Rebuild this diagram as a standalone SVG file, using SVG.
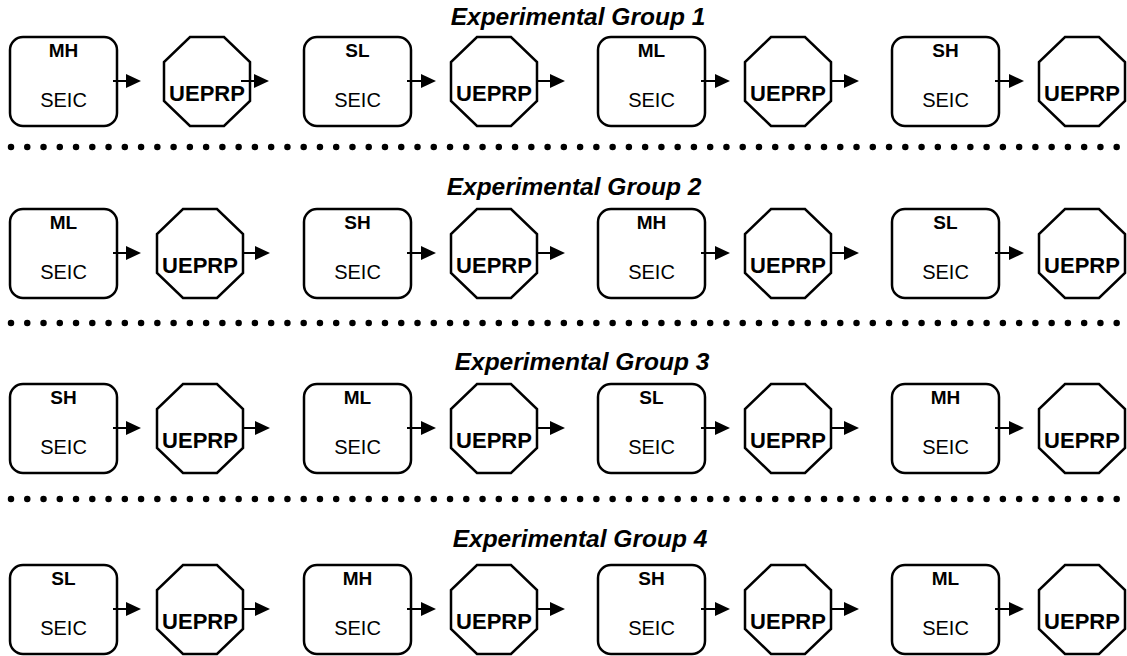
<svg xmlns="http://www.w3.org/2000/svg" width="1127" height="656" viewBox="0 0 1127 656">
<defs>
<style>
.box{fill:#fff;stroke:#000;stroke-width:2.5}
.oct{fill:#fff;stroke:#000;stroke-width:2.5}
.lbl{font-family:"Liberation Sans",Arial,sans-serif;font-weight:bold;font-size:19px;text-anchor:middle}
.seic{font-family:"Liberation Sans",Arial,sans-serif;font-size:20px;text-anchor:middle}
.ue{font-family:"Liberation Sans",Arial,sans-serif;font-weight:bold;font-size:22px;text-anchor:middle}
.title{font-family:"Liberation Sans",Arial,sans-serif;font-weight:bold;font-style:italic;font-size:24.5px;text-anchor:middle}
.arr{stroke:#000;stroke-width:2;fill:none;marker-end:url(#ah)}
.dots{stroke:#000;stroke-width:6.5;stroke-linecap:round;stroke-dasharray:0 16.26;fill:none}
</style>
<marker id="ah" markerUnits="userSpaceOnUse" markerWidth="15" markerHeight="14" refX="13" refY="7" orient="auto">
<path d="M0,0 L15,7 L0,14 z" fill="#000"/>
</marker>
<rect id="b" width="107" height="89" rx="13" class="box"/>
<polygon id="o" points="26,0 60,0 86,25 86,64 60,89 26,89 0,64 0,25" class="oct"/>
</defs>

<g id="titles">
<text class="title" x="578" y="25">Experimental Group 1</text>
<text class="title" x="574" y="195">Experimental Group 2</text>
<text class="title" x="582" y="370">Experimental Group 3</text>
<text class="title" x="580" y="547">Experimental Group 4</text>
</g>

<g id="separators">
<line class="dots" x1="11" y1="147" x2="1117" y2="147"/>
<line class="dots" x1="11" y1="323" x2="1117" y2="323"/>
<line class="dots" x1="11" y1="499" x2="1117" y2="499"/>
</g>

<!-- Row 1 -->
<g id="r1c1"><use href="#b" x="10" y="37"/><text class="lbl" x="63.5" y="57">MH</text><text class="seic" x="63.5" y="107">SEIC</text></g>
<g id="r1o1"><use href="#o" x="164" y="37"/><text class="ue" x="207" y="101">UEPRP</text></g>
<g id="r1c2"><use href="#b" x="304" y="37"/><text class="lbl" x="357.5" y="57">SL</text><text class="seic" x="357.5" y="107">SEIC</text></g>
<g id="r1o2"><use href="#o" x="451" y="37"/><text class="ue" x="494" y="101">UEPRP</text></g>
<g id="r1c3"><use href="#b" x="598" y="37"/><text class="lbl" x="651.5" y="57">ML</text><text class="seic" x="651.5" y="107">SEIC</text></g>
<g id="r1o3"><use href="#o" x="745" y="37"/><text class="ue" x="788" y="101">UEPRP</text></g>
<g id="r1c4"><use href="#b" x="892" y="37"/><text class="lbl" x="945.5" y="57">SH</text><text class="seic" x="945.5" y="107">SEIC</text></g>
<g id="r1o4"><use href="#o" x="1039" y="37"/><text class="ue" x="1082" y="101">UEPRP</text></g>

<!-- Row 2 -->
<g id="r2c1"><use href="#b" x="10" y="209"/><text class="lbl" x="63.5" y="229">ML</text><text class="seic" x="63.5" y="279">SEIC</text></g>
<g id="r2o1"><use href="#o" x="157" y="209"/><text class="ue" x="200" y="273">UEPRP</text></g>
<g id="r2c2"><use href="#b" x="304" y="209"/><text class="lbl" x="357.5" y="229">SH</text><text class="seic" x="357.5" y="279">SEIC</text></g>
<g id="r2o2"><use href="#o" x="451" y="209"/><text class="ue" x="494" y="273">UEPRP</text></g>
<g id="r2c3"><use href="#b" x="598" y="209"/><text class="lbl" x="651.5" y="229">MH</text><text class="seic" x="651.5" y="279">SEIC</text></g>
<g id="r2o3"><use href="#o" x="745" y="209"/><text class="ue" x="788" y="273">UEPRP</text></g>
<g id="r2c4"><use href="#b" x="892" y="209"/><text class="lbl" x="945.5" y="229">SL</text><text class="seic" x="945.5" y="279">SEIC</text></g>
<g id="r2o4"><use href="#o" x="1039" y="209"/><text class="ue" x="1082" y="273">UEPRP</text></g>

<!-- Row 3 -->
<g id="r3c1"><use href="#b" x="10" y="384"/><text class="lbl" x="63.5" y="404">SH</text><text class="seic" x="63.5" y="454">SEIC</text></g>
<g id="r3o1"><use href="#o" x="157" y="384"/><text class="ue" x="200" y="448">UEPRP</text></g>
<g id="r3c2"><use href="#b" x="304" y="384"/><text class="lbl" x="357.5" y="404">ML</text><text class="seic" x="357.5" y="454">SEIC</text></g>
<g id="r3o2"><use href="#o" x="451" y="384"/><text class="ue" x="494" y="448">UEPRP</text></g>
<g id="r3c3"><use href="#b" x="598" y="384"/><text class="lbl" x="651.5" y="404">SL</text><text class="seic" x="651.5" y="454">SEIC</text></g>
<g id="r3o3"><use href="#o" x="745" y="384"/><text class="ue" x="788" y="448">UEPRP</text></g>
<g id="r3c4"><use href="#b" x="892" y="384"/><text class="lbl" x="945.5" y="404">MH</text><text class="seic" x="945.5" y="454">SEIC</text></g>
<g id="r3o4"><use href="#o" x="1039" y="384"/><text class="ue" x="1082" y="448">UEPRP</text></g>

<!-- Row 4 -->
<g id="r4c1"><use href="#b" x="10" y="565"/><text class="lbl" x="63.5" y="585">SL</text><text class="seic" x="63.5" y="635">SEIC</text></g>
<g id="r4o1"><use href="#o" x="157" y="565"/><text class="ue" x="200" y="629">UEPRP</text></g>
<g id="r4c2"><use href="#b" x="304" y="565"/><text class="lbl" x="357.5" y="585">MH</text><text class="seic" x="357.5" y="635">SEIC</text></g>
<g id="r4o2"><use href="#o" x="451" y="565"/><text class="ue" x="494" y="629">UEPRP</text></g>
<g id="r4c3"><use href="#b" x="598" y="565"/><text class="lbl" x="651.5" y="585">SH</text><text class="seic" x="651.5" y="635">SEIC</text></g>
<g id="r4o3"><use href="#o" x="745" y="565"/><text class="ue" x="788" y="629">UEPRP</text></g>
<g id="r4c4"><use href="#b" x="892" y="565"/><text class="lbl" x="945.5" y="585">ML</text><text class="seic" x="945.5" y="635">SEIC</text></g>
<g id="r4o4"><use href="#o" x="1039" y="565"/><text class="ue" x="1082" y="629">UEPRP</text></g>

<g id="connectors">
<line class="arr" x1="113" y1="81" x2="139" y2="81"/>
<line class="arr" x1="241" y1="81" x2="267" y2="81"/>
<line class="arr" x1="407" y1="81" x2="434" y2="81"/>
<line class="arr" x1="537" y1="81" x2="563" y2="81"/>
<line class="arr" x1="701" y1="81" x2="728" y2="81"/>
<line class="arr" x1="831" y1="81" x2="857" y2="81"/>
<line class="arr" x1="995" y1="81" x2="1022" y2="81"/>

<line class="arr" x1="113" y1="253" x2="139" y2="253"/>
<line class="arr" x1="243" y1="253" x2="268" y2="253"/>
<line class="arr" x1="407" y1="253" x2="434" y2="253"/>
<line class="arr" x1="537" y1="253" x2="563" y2="253"/>
<line class="arr" x1="701" y1="253" x2="728" y2="253"/>
<line class="arr" x1="831" y1="253" x2="857" y2="253"/>
<line class="arr" x1="995" y1="253" x2="1022" y2="253"/>

<line class="arr" x1="113" y1="428" x2="139" y2="428"/>
<line class="arr" x1="243" y1="428" x2="268" y2="428"/>
<line class="arr" x1="407" y1="428" x2="434" y2="428"/>
<line class="arr" x1="537" y1="428" x2="563" y2="428"/>
<line class="arr" x1="701" y1="428" x2="728" y2="428"/>
<line class="arr" x1="831" y1="428" x2="857" y2="428"/>
<line class="arr" x1="995" y1="428" x2="1022" y2="428"/>

<line class="arr" x1="113" y1="609" x2="139" y2="609"/>
<line class="arr" x1="243" y1="609" x2="268" y2="609"/>
<line class="arr" x1="407" y1="609" x2="434" y2="609"/>
<line class="arr" x1="537" y1="609" x2="563" y2="609"/>
<line class="arr" x1="701" y1="609" x2="728" y2="609"/>
<line class="arr" x1="831" y1="609" x2="857" y2="609"/>
<line class="arr" x1="995" y1="609" x2="1022" y2="609"/>
</g>
</svg>
